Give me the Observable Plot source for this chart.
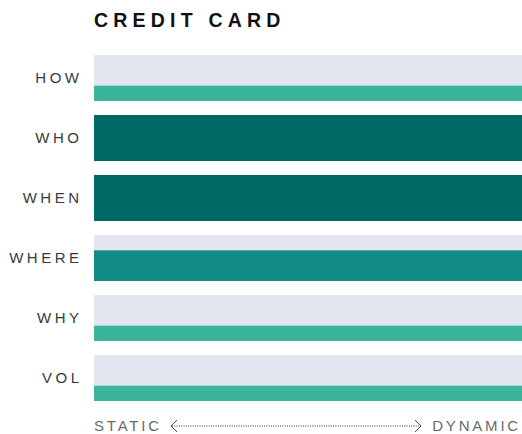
<!DOCTYPE html>
<html><head><meta charset="utf-8">
<script src="https://cdn.jsdelivr.net/npm/d3@7"></script>
<script src="https://cdn.jsdelivr.net/npm/@observablehq/plot@0.6"></script>
<style>
html,body{margin:0;padding:0;background:#fff;}
body{width:522px;height:434px;position:relative;overflow:hidden;font-family:"Liberation Sans",Arial,Helvetica,sans-serif;}
#title{position:absolute;left:94px;top:8px;font-size:19.5px;font-weight:bold;letter-spacing:5.2px;color:#111;line-height:24px;white-space:nowrap;}
#chart{position:absolute;left:0;top:40px;}
#chart svg text{font-family:"Liberation Sans",Arial,sans-serif;}
#foot{position:absolute;left:0;top:404px;}
</style></head>
<body>
<div id="title">CREDIT CARD</div>
<div id="chart"></div>
<div id="foot"></div>
<script>
const rows = ["HOW","WHO","WHEN","WHERE","WHY","VOL"];
const levels = [1,3,3,2,1,1];          // out of 3
const maxLevel = 3;
const levelColors = ["#3bb59a","#128d85","#006963"];
const bandColor = "#e3e7ef";
const axisLabels = ["STATIC","DYNAMIC"];

const data = rows.map((r,i)=>({row:r, level:levels[i]}));

const chart = Plot.plot({
  width:522, height:394,
  marginLeft:94, marginRight:0, marginTop:14, marginBottom:32,
  x:{domain:[0,1], axis:null},
  y:{domain:[0,maxLevel], axis:null},
  fy:{domain:rows, paddingInner:0.24, paddingOuter:0, label:null, tickSize:0, tickPadding:12},
  color:{type:"ordinal", domain:[1,2,3], range:levelColors},
  style:{fontSize:"15px", color:"#333", background:"#fff"},
  marks:[
    Plot.rect(data,{fy:"row", x1:0, x2:1, y1:0, y2:maxLevel, fill:bandColor}),
    Plot.rect(data,{fy:"row", x1:0, x2:1, y1:0, y2:"level", fill:"level"})
  ]
});
document.getElementById("chart").appendChild(chart);
d3.select(chart).selectAll("text").filter(function(){return rows.includes(this.textContent);})
  .attr("letter-spacing","3.5px").attr("fill","#3a3a3a").style("font-size","15px");

// footer: STATIC <....> DYNAMIC
const fx = d3.scaleLinear().domain([0,1]).range([94,522]);
const foot = d3.select("#foot").append("svg").attr("width",522).attr("height",30);
const fy0 = 22;
foot.append("text").attr("x",fx(0)).attr("y",fy0).attr("dy","0.35em")
  .attr("font-size",15).attr("letter-spacing","2.8px").attr("fill","#6a6a6a")
  .attr("font-family","Liberation Sans, Arial, sans-serif").text(axisLabels[0]);
foot.append("text").attr("x",fx(1)-1).attr("y",fy0).attr("dy","0.35em").attr("text-anchor","end")
  .attr("font-size",15).attr("letter-spacing","2.8px").attr("fill","#6a6a6a")
  .attr("font-family","Liberation Sans, Arial, sans-serif").text(axisLabels[1]);
const ax1 = 171, ax2 = 421;
foot.append("line").attr("x1",ax1+1).attr("x2",ax2-1).attr("y1",fy0).attr("y2",fy0)
  .attr("stroke","#333").attr("stroke-width",1).attr("stroke-dasharray","1,1.3");
foot.append("path").attr("d",`M${ax1+6},${fy0-6}L${ax1},${fy0}L${ax1+6},${fy0+6}`).attr("fill","none").attr("stroke","#333").attr("stroke-width",0.9);
foot.append("path").attr("d",`M${ax2-6},${fy0-6}L${ax2},${fy0}L${ax2-6},${fy0+6}`).attr("fill","none").attr("stroke","#333").attr("stroke-width",0.9);
</script>
</body></html>
